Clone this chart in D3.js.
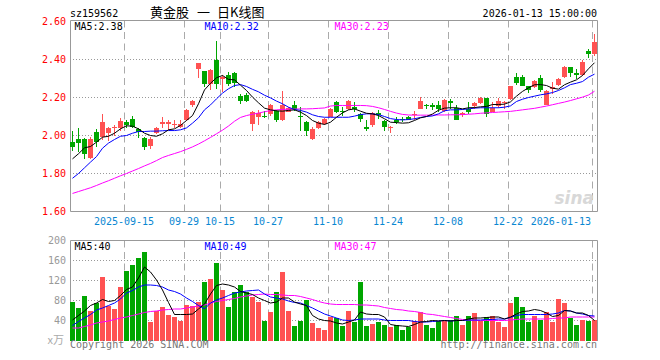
<!DOCTYPE html>
<html>
<head>
<meta charset="utf-8">
<script src="https://cdn.jsdelivr.net/npm/d3@7"></script>
<style>
  body { margin: 0; background: #fff; }
  svg text { font-family: "DejaVu Sans Mono", monospace; font-size: 10px; }
</style>
</head>
<body>
<svg id="chart" width="660" height="360"></svg>
<script>
// trading days shown, 2025-09-02 .. 2026-01-13
const dates = [
  '2025-09-02','2025-09-03','2025-09-04','2025-09-05','2025-09-08','2025-09-09','2025-09-10','2025-09-11','2025-09-12','2025-09-15',
  '2025-09-16','2025-09-17','2025-09-18','2025-09-19','2025-09-22','2025-09-23','2025-09-24','2025-09-25','2025-09-26','2025-09-29',
  '2025-09-30','2025-10-09','2025-10-10','2025-10-13','2025-10-14','2025-10-15','2025-10-16','2025-10-17','2025-10-20','2025-10-21',
  '2025-10-22','2025-10-23','2025-10-24','2025-10-27','2025-10-28','2025-10-29','2025-10-30','2025-10-31','2025-11-03','2025-11-04',
  '2025-11-05','2025-11-06','2025-11-07','2025-11-10','2025-11-11','2025-11-12','2025-11-13','2025-11-14','2025-11-17','2025-11-18',
  '2025-11-19','2025-11-20','2025-11-21','2025-11-24','2025-11-25','2025-11-26','2025-11-27','2025-11-28','2025-12-01','2025-12-02',
  '2025-12-03','2025-12-04','2025-12-05','2025-12-08','2025-12-09','2025-12-10','2025-12-11','2025-12-12','2025-12-15','2025-12-16',
  '2025-12-17','2025-12-18','2025-12-19','2025-12-22','2025-12-23','2025-12-24','2025-12-25','2025-12-26','2025-12-29','2025-12-30',
  '2025-12-31','2026-01-05','2026-01-06','2026-01-07','2026-01-08','2026-01-09','2026-01-12','2026-01-13'
];

const open = [1.965,1.979,1.979,1.882,2.021,1.991,2.012,2.040,2.040,2.070,
  2.088,2.035,1.986,1.947,2.012,2.061,2.061,2.058,2.047,2.084,
  2.158,2.351,2.342,2.272,2.395,2.298,2.316,2.328,2.207,2.214,
  2.058,2.096,2.105,2.111,2.128,2.079,2.126,2.163,2.105,2.070,
  1.979,2.039,2.058,2.100,2.175,2.130,2.140,2.149,2.111,2.044,
  2.056,2.117,2.074,2.042,2.079,2.088,2.096,2.109,2.140,2.163,
  2.158,2.163,2.131,2.184,2.144,2.110,2.137,2.154,2.172,2.196,
  2.126,2.153,2.170,2.193,2.307,2.310,2.258,2.254,2.302,2.163,
  2.247,2.268,2.307,2.363,2.330,2.316,2.444,2.430];
const close = [1.942,1.960,1.904,1.979,1.965,2.070,2.040,2.047,2.074,2.053,
  2.047,2.018,1.942,1.979,2.040,2.070,2.070,2.061,2.061,2.132,
  2.184,2.381,2.272,2.347,2.272,2.307,2.272,2.277,2.179,2.184,
  2.123,2.118,2.097,2.161,2.079,2.158,2.144,2.140,2.096,2.023,
  2.035,2.070,2.088,2.140,2.126,2.123,2.184,2.140,2.088,2.035,
  2.119,2.109,2.044,2.045,2.070,2.079,2.082,2.114,2.179,2.156,
  2.152,2.140,2.189,2.170,2.082,2.121,2.123,2.172,2.196,2.114,
  2.147,2.179,2.175,2.258,2.277,2.263,2.237,2.289,2.237,2.233,
  2.256,2.295,2.360,2.328,2.321,2.389,2.430,2.491];
const high = [2.026,2.040,1.985,1.991,2.035,2.111,2.044,2.053,2.093,2.079,
  2.105,2.040,1.991,1.991,2.044,2.100,2.079,2.082,2.082,2.137,
  2.188,2.384,2.342,2.351,2.495,2.316,2.333,2.333,2.219,2.223,
  2.128,2.132,2.130,2.167,2.132,2.232,2.149,2.179,2.149,2.074,
  2.044,2.075,2.093,2.146,2.181,2.149,2.188,2.175,2.117,2.079,
  2.123,2.135,2.079,2.050,2.100,2.096,2.105,2.131,2.205,2.168,
  2.170,2.184,2.193,2.193,2.158,2.123,2.175,2.175,2.202,2.196,
  2.175,2.196,2.184,2.263,2.330,2.319,2.263,2.293,2.316,2.237,
  2.281,2.302,2.368,2.363,2.351,2.395,2.456,2.532];
const low = [1.921,1.912,1.877,1.877,1.939,1.974,1.970,2.000,2.023,2.040,
  2.040,1.988,1.925,1.930,2.009,2.040,2.030,2.040,2.040,2.074,
  2.149,2.304,2.254,2.237,2.246,2.228,2.258,2.254,2.167,2.175,
  2.023,2.053,2.090,2.105,2.070,2.074,2.123,2.131,2.026,1.996,
  1.974,2.035,2.053,2.097,2.117,2.105,2.135,2.123,2.070,2.023,
  2.044,2.088,2.026,2.012,2.061,2.070,2.079,2.079,2.137,2.137,
  2.135,2.126,2.123,2.140,2.079,2.100,2.114,2.140,2.167,2.096,
  2.123,2.144,2.140,2.188,2.268,2.258,2.223,2.251,2.231,2.158,
  2.219,2.263,2.302,2.307,2.298,2.312,2.409,2.421];

// price moving averages as drawn
const ma5 = [1.877,1.904,1.935,1.942,1.965,1.991,1.996,2.012,2.035,2.051,
  2.049,2.035,2.012,2.000,1.996,2.009,2.030,2.035,2.053,2.079,
  2.105,2.167,2.240,2.275,2.304,2.316,2.295,2.293,2.265,2.237,
  2.202,2.172,2.144,2.135,2.130,2.128,2.132,2.135,2.123,2.105,
  2.079,2.065,2.058,2.070,2.096,2.119,2.135,2.140,2.128,2.117,
  2.114,2.105,2.088,2.070,2.068,2.065,2.067,2.079,2.093,2.100,
  2.113,2.133,2.144,2.146,2.146,2.140,2.146,2.147,2.151,2.153,
  2.163,2.163,2.165,2.177,2.207,2.232,2.251,2.267,2.268,2.263,
  2.249,2.244,2.267,2.281,2.293,2.316,2.351,2.383];
const ma10 = [1.775,1.800,1.830,1.860,1.889,1.933,1.960,1.979,1.996,2.000,
  2.012,2.021,2.021,2.023,2.023,2.025,2.026,2.026,2.030,2.040,
  2.065,2.093,2.135,2.161,2.193,2.223,2.246,2.263,2.268,2.258,
  2.243,2.230,2.212,2.198,2.181,2.167,2.149,2.137,2.132,2.123,
  2.109,2.100,2.096,2.096,2.096,2.096,2.096,2.102,2.110,2.114,
  2.114,2.110,2.100,2.089,2.084,2.082,2.084,2.088,2.095,2.100,
  2.103,2.114,2.130,2.135,2.135,2.137,2.140,2.144,2.146,2.146,
  2.146,2.146,2.149,2.156,2.179,2.191,2.200,2.207,2.214,2.219,
  2.226,2.237,2.251,2.268,2.275,2.284,2.307,2.323];
const ma30 = [1.695,1.705,1.715,1.725,1.737,1.750,1.762,1.775,1.788,1.800,
  1.813,1.826,1.840,1.853,1.868,1.884,1.895,1.905,1.915,1.927,
  1.940,1.955,1.972,1.990,2.009,2.028,2.050,2.075,2.095,2.105,
  2.112,2.118,2.125,2.131,2.135,2.137,2.139,2.139,2.140,2.140,
  2.141,2.143,2.145,2.155,2.158,2.158,2.158,2.158,2.158,2.157,
  2.153,2.146,2.137,2.127,2.118,2.111,2.108,2.107,2.107,2.107,
  2.107,2.108,2.108,2.109,2.109,2.110,2.112,2.114,2.117,2.119,
  2.121,2.123,2.125,2.127,2.131,2.135,2.139,2.143,2.149,2.155,
  2.162,2.169,2.176,2.184,2.193,2.202,2.213,2.233];

// volume, 万 lots
const vol = [78,65,90,60,75,127,70,63,107,140,
  152,165,178,37,59,67,52,47,40,72,
  70,78,117,123,155,102,67,98,111,98,
  87,78,40,57,97,137,60,30,40,82,
  35,25,21,48,45,30,59,38,117,30,
  33,37,32,27,32,22,28,39,57,32,
  25,40,40,41,50,32,50,55,40,48,
  50,38,28,75,88,68,38,50,41,58,
  38,83,75,45,32,42,39,41];
const volMa5 = [41,50,59,70,75,82,78,80,90,102,
  107,125,147,137,121,101,76,52,52,52,
  53,63,73,93,110,113,111,107,98,95,
  92,85,80,75,77,85,85,77,73,70,
  50,43,40,39,35,33,37,41,57,53,
  52,52,47,32,30,29,28,32,37,38,
  40,39,40,39,40,40,43,45,45,46,
  47,47,43,47,53,58,59,62,60,55,
  48,50,60,59,55,55,50,40];
const volMa10 = [30,38,45,52,61,65,70,75,83,95,
  100,107,111,111,110,107,101,98,93,85,
  78,70,63,75,81,85,90,95,97,99,
  100,101,93,87,85,83,79,76,75,70,
  65,59,53,49,45,41,40,41,43,43,
  43,43,41,40,40,40,40,38,37,37,
  38,39,40,39,40,40,41,41,41,42,
  42,43,43,46,50,52,52,52,52,52,
  53,55,60,59,55,53,50,49];
const volMa30 = [25,25,28,31,35,37,39,42,45,47,
  50,53,56,58,59,61,62,63,63,65,
  67,69,71,75,78,80,82,84,87,89,
  91,92,93,92,92,91,90,90,88,85,
  82,78,75,73,72,72,72,72,71,71,
  70,69,66,64,62,61,59,58,56,53,
  52,50,48,46,44,42,41,40,40,40,
  40,40,40,41,42,43,43,43,43,43,
  44,45,45,47,47,47,47,47];

const priceTicks = [1.6, 1.8, 2.0, 2.2, 2.4, 2.6];
const volTicks = [40, 80, 120, 160, 200];
const tickDates = ['2025-09-15','2025-09-29','2025-10-15','2025-10-27','2025-11-10','2025-11-24','2025-12-08','2025-12-22','2026-01-13'];
const tickLabels = ['2025-09-15','09-29','10-15','10-27','11-10','11-24','12-08','12-22','2026-01-13'];

const RED = '#ff5252', GREEN = '#00a600';
const left = 70, right = 597.5;

const svg = d3.select('#chart');

const x = d3.scaleBand().domain(dates).range([70, 598])
  .paddingInner(1 / 6).paddingOuter(1 / 12).align(0);
const cx = d => x(d) + 2.5;
const y = d3.scaleLinear().domain([1.6, 2.6]).range([211.5, 21.5]);
const yv = d3.scaleLinear().domain([0, 200]).range([340.5, 240.5]);

// grid
const grid = svg.append('g');
grid.selectAll('.hp').data(priceTicks.slice(1, -1)).enter().append('line')
  .attr('x1', left).attr('x2', right)
  .attr('y1', d => y(d)).attr('y2', d => y(d))
  .attr('stroke', '#999').attr('stroke-dasharray', '1,2');
grid.selectAll('.hv').data(volTicks.slice(0, -1)).enter().append('line')
  .attr('x1', left).attr('x2', right)
  .attr('y1', d => yv(d)).attr('y2', d => yv(d))
  .attr('stroke', '#999').attr('stroke-dasharray', '1,2');
[[20.5, 211.5], [240.5, 340.5]].forEach(([a, b]) => {
  grid.selectAll(null).data(tickDates).enter().append('line')
    .attr('x1', d => x(d) + 0.5).attr('x2', d => x(d) + 0.5)
    .attr('y1', a).attr('y2', b)
    .attr('stroke', '#aaa').attr('stroke-dasharray', '7,4.5');
});

// frames
svg.append('path')
  .attr('d', `M${left + 0.5},20.5H${right}V211.5H${left + 0.5}Z`)
  .attr('fill', 'none').attr('stroke', '#999');
svg.append('path')
  .attr('d', `M${left + 0.5},341V240.5H${right}V341`)
  .attr('fill', 'none').attr('stroke', '#999');

// sina watermark
svg.append('text').attr('x', 594).attr('y', 204).attr('text-anchor', 'end')
  .style('font-family', 'DejaVu Sans').style('font-size', '17px')
  .style('font-style', 'italic').style('font-weight', 'bold')
  .attr('fill', '#d8d8d8').text('sina');

// candles
const idx = d3.range(dates.length);
const up = i => close[i] >= open[i];
const candles = svg.append('g').attr('shape-rendering', 'crispEdges');
candles.selectAll('line').data(idx).enter().append('line')
  .attr('x1', i => cx(dates[i])).attr('x2', i => cx(dates[i]))
  .attr('y1', i => y(high[i])).attr('y2', i => y(low[i]))
  .attr('stroke', i => up(i) ? RED : GREEN);
candles.selectAll('rect').data(idx).enter().append('rect')
  .attr('x', i => x(dates[i]))
  .attr('width', x.bandwidth())
  .attr('y', i => y(Math.max(open[i], close[i])))
  .attr('height', i => Math.max(1, Math.abs(y(open[i]) - y(close[i]))))
  .attr('fill', i => up(i) ? RED : GREEN);

// volume bars
svg.append('g').attr('shape-rendering', 'crispEdges')
  .selectAll('rect').data(idx).enter().append('rect')
  .attr('x', i => x(dates[i]))
  .attr('width', x.bandwidth())
  .attr('y', i => yv(vol[i]))
  .attr('height', i => yv(0) - yv(vol[i]))
  .attr('fill', i => up(i) ? RED : GREEN);

// moving average lines
function maLine(values, scale, color) {
  const line = d3.line().x(i => cx(dates[i])).y(i => scale(values[i]));
  svg.append('path').attr('d', line(idx))
    .attr('fill', 'none').attr('stroke', color).attr('stroke-width', 1);
}
maLine(ma30, y, '#ff00ff');
maLine(ma10, y, '#0000ff');
maLine(ma5, y, '#000');
maLine(volMa30, yv, '#ff00ff');
maLine(volMa10, yv, '#0000ff');
maLine(volMa5, yv, '#000');

// axis labels
svg.selectAll('.pl').data(priceTicks).enter().append('text')
  .attr('x', 66).attr('y', d => y(d)).attr('dy', '0.35em')
  .attr('text-anchor', 'end').attr('fill', '#f00')
  .text(d => d3.format('.2f')(d));
svg.selectAll('.vl').data(volTicks).enter().append('text')
  .attr('x', 66).attr('y', d => yv(d)).attr('dy', '0.35em')
  .attr('text-anchor', 'end').attr('fill', '#999')
  .text(d => d);
svg.append('text').attr('x', 64).attr('y', 344)
  .attr('text-anchor', 'end').attr('fill', '#aaa')
  .style('font-family', '"Noto Sans CJK SC", sans-serif').style('font-size', '11px')
  .text('x万');

svg.selectAll('.dl').data(tickDates).enter().append('text')
  .attr('x', (d, i) => i === tickDates.length - 1 ? x(d) - 1 : x(d))
  .attr('y', 225)
  .attr('text-anchor', (d, i) => i === tickDates.length - 1 ? 'end' : 'middle')
  .attr('fill', '#0a87d2')
  .text((d, i) => tickLabels[i]);

// legends (values cut to 2 decimals like the original)
const last = dates.length - 1;
const cut = v => (Math.floor(v * 100) / 100).toFixed(2);
const legends = [
  [`MA5:${cut(ma5[last])}`, `MA5:${volMa5[last]}`, '#000', 74.5],
  [`MA10:${cut(ma10[last])}`, `MA10:${volMa10[last]}`, '#0000ff', 204.5],
  [`MA30:${cut(ma30[last])}`, `MA30:${volMa30[last]}`, '#ff00ff', 334.5]
];
legends.forEach(([p, v, c, lx]) => {
  svg.append('text').attr('x', lx).attr('y', 30).attr('fill', c).text(p);
  svg.append('text').attr('x', lx).attr('y', 250).attr('fill', c).text(v);
});

// header and footer
svg.append('text').attr('x', 70).attr('y', 16.5).text('sz159562');
const titleParts = [['黄金股', 150], ['一', 197], ['日K线图', 217]];
svg.selectAll('.title').data(titleParts).enter().append('text')
  .attr('x', d => d[1]).attr('y', 17)
  .style('font-family', '"Noto Sans CJK SC", sans-serif').style('font-size', '13px')
  .text(d => d[0]);
svg.append('text').attr('x', 597).attr('y', 16.5).attr('text-anchor', 'end')
  .text('2026-01-13 15:00:00');
svg.append('text').attr('x', 70).attr('y', 348).attr('fill', '#777')
  .text('Copyright 2026 SINA.COM');
svg.append('text').attr('x', 597).attr('y', 348).attr('text-anchor', 'end').attr('fill', '#777')
  .text('http://finance.sina.com.cn');
</script>
</body>
</html>
